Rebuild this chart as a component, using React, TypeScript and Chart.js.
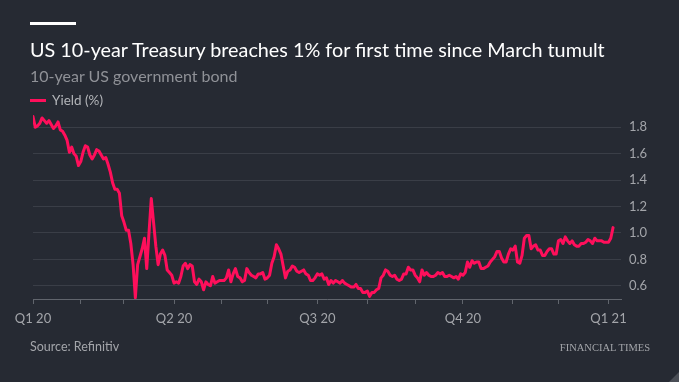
import React, { useEffect, useRef } from "react";
import { Chart, registerables } from "chart.js";

Chart.register(...registerables);

// Daily 10-year US Treasury yield (%), one array per month of trading days
const jan20 = [1.88, 1.80, 1.81, 1.83, 1.87, 1.85, 1.83, 1.85, 1.82, 1.79, 1.81, 1.84, 1.78, 1.77, 1.74, 1.70, 1.61, 1.65, 1.60, 1.58, 1.51];
const feb20 = [1.54, 1.61, 1.66, 1.65, 1.59, 1.56, 1.59, 1.63, 1.62, 1.59, 1.56, 1.57, 1.52, 1.46, 1.38, 1.33, 1.33, 1.30, 1.13];
const mar20 = [1.08, 1.02, 1.02, 0.92, 0.76, 0.51, 0.76, 0.82, 0.88, 0.96, 0.73, 1.00, 1.26, 1.08, 0.90, 0.76, 0.84, 0.87, 0.83, 0.72, 0.70, 0.68];
const apr20 = [0.62, 0.63, 0.62, 0.67, 0.75, 0.77, 0.73, 0.76, 0.75, 0.63, 0.61, 0.65, 0.63, 0.57, 0.63, 0.61, 0.60, 0.67, 0.62, 0.63, 0.64];
const may20 = [0.64, 0.64, 0.66, 0.72, 0.63, 0.69, 0.73, 0.67, 0.66, 0.63, 0.64, 0.73, 0.70, 0.68, 0.67, 0.66, 0.69, 0.69, 0.70, 0.65];
const jun20 = [0.66, 0.68, 0.77, 0.82, 0.91, 0.88, 0.84, 0.75, 0.66, 0.71, 0.72, 0.75, 0.74, 0.71, 0.70, 0.71, 0.72, 0.69, 0.68, 0.64, 0.64, 0.66];
const jul20 = [0.69, 0.68, 0.69, 0.65, 0.66, 0.61, 0.64, 0.62, 0.64, 0.63, 0.62, 0.64, 0.62, 0.61, 0.60, 0.59, 0.59, 0.61, 0.58, 0.58, 0.55, 0.55];
const aug20 = [0.56, 0.52, 0.55, 0.55, 0.57, 0.58, 0.66, 0.68, 0.72, 0.71, 0.68, 0.67, 0.68, 0.65, 0.64, 0.65, 0.69, 0.69, 0.74, 0.72, 0.72];
const sep20 = [0.68, 0.66, 0.63, 0.72, 0.68, 0.70, 0.68, 0.67, 0.67, 0.68, 0.70, 0.69, 0.70, 0.67, 0.67, 0.68, 0.67, 0.66, 0.67, 0.65, 0.69];
const oct20 = [0.68, 0.70, 0.78, 0.74, 0.79, 0.77, 0.78, 0.78, 0.73, 0.73, 0.74, 0.75, 0.78, 0.80, 0.82, 0.86, 0.86, 0.81, 0.78, 0.78, 0.84, 0.88];
const nov20 = [0.87, 0.90, 0.78, 0.77, 0.83, 0.96, 0.98, 0.98, 0.88, 0.90, 0.91, 0.87, 0.87, 0.83, 0.83, 0.86, 0.88, 0.88, 0.84, 0.84];
const dec20 = [0.94, 0.95, 0.92, 0.97, 0.94, 0.92, 0.94, 0.91, 0.90, 0.90, 0.92, 0.92, 0.93, 0.95, 0.94, 0.92, 0.96, 0.94, 0.94, 0.94, 0.93, 0.93];
const jan21 = [0.93, 0.96, 1.04];

const months = [jan20, feb20, mar20, apr20, may20, jun20, jul20, aug20, sep20, oct20, nov20, dec20, jan21];
const quarterLabels = ["Q1 20", "Q2 20", "Q3 20", "Q4 20", "Q1 21"];
const yTicks = [0.6, 0.8, 1.0, 1.2, 1.4, 1.6, 1.8];
const yMin = 0.5;
const yMax = 1.9;
const xMaxPad = 3.5;

const BG = "#262a33";
const LINE = "#ff0f5b";
const FONT = "Lato, 'Open Sans', sans-serif";

export default function App() {
  const ref = useRef<HTMLCanvasElement>(null);

  useEffect(() => {
    const values = months.flat();
    const points = values.map((v, i) => ({ x: i, y: v }));
    const monthStarts: number[] = [];
    let acc = 0;
    for (const m of months) {
      monthStarts.push(acc);
      acc += m.length;
    }
    const labelAt = new Map<number, string>();
    quarterLabels.forEach((l, q) => labelAt.set(monthStarts[q * 3], l));

    const chart = new Chart(ref.current!, {
      type: "line",
      data: {
        datasets: [
          {
            data: points,
            borderColor: LINE,
            borderWidth: 3,
            pointRadius: 0,
            tension: 0,
            borderJoinStyle: "round",
            borderCapStyle: "round",
          },
        ],
      },
      options: {
        animation: false,
        responsive: false,
        devicePixelRatio: 1,
        layout: { padding: { left: 33, top: 114, right: 0, bottom: 0 } },
        plugins: { legend: { display: false }, tooltip: { enabled: false } },
        scales: {
          x: {
            type: "linear",
            min: 0,
            max: values.length - 1 + xMaxPad,
            afterBuildTicks: (s: any) => {
              s.ticks = monthStarts.map((v) => ({ value: v }));
            },
            afterFit: (s: any) => {
              s.height = 83;
            },
            ticks: {
              autoSkip: false,
              maxRotation: 0,
              minRotation: 0,
              padding: 7,
              color: "#a3a5aa",
              font: { family: FONT, size: 13 },
              callback: (v: any) => labelAt.get(Number(v)) ?? "",
            },
            grid: { drawOnChartArea: false, drawTicks: true, tickLength: 5, color: "#61656d" },
            border: { display: true, color: "#61656d", width: 1 },
          },
          y: {
            position: "right",
            min: yMin,
            max: yMax,
            afterBuildTicks: (s: any) => {
              s.ticks = yTicks.map((v) => ({ value: v }));
            },
            afterFit: (s: any) => {
              s.width = 58;
            },
            ticks: {
              padding: 8,
              color: "#a3a5aa",
              font: { family: FONT, size: 13 },
              callback: (v: any) => Number(v).toFixed(1),
            },
            grid: { color: "#3a3e47", drawTicks: false, lineWidth: 1 },
            border: { display: false },
          },
        },
      },
    });
    return () => chart.destroy();
  }, []);

  return (
    <div style={{ position: "fixed", left: 0, top: 0, width: 679, height: 382, background: BG, overflow: "hidden", fontFamily: FONT }}>
      <canvas ref={ref} width={679} height={382} style={{ position: "absolute", left: 0, top: 0, width: 679, height: 382 }} />
      <div style={{ position: "absolute", left: 30, top: 22, width: 46, height: 3, background: "#ffffff" }} />
      <div style={{ position: "absolute", left: 30, top: 37, fontSize: 19.8, lineHeight: "24px", color: "#ffffff", whiteSpace: "nowrap" }}>
        US 10-year Treasury breaches 1% for first time since March tumult
      </div>
      <div style={{ position: "absolute", left: 30, top: 66, fontSize: 16, lineHeight: "20px", color: "#8f9197", whiteSpace: "nowrap" }}>
        10-year US government bond
      </div>
      <div style={{ position: "absolute", left: 30, top: 99, width: 16, height: 3, background: LINE }} />
      <div style={{ position: "absolute", left: 52, top: 92, fontSize: 13.5, lineHeight: "17px", color: "#b3b5b9", whiteSpace: "nowrap" }}>
        Yield (%)
      </div>
      <div style={{ position: "absolute", left: 30, top: 339, fontSize: 12.5, lineHeight: "16px", color: "#a3a5aa", whiteSpace: "nowrap" }}>
        Source: Refinitiv
      </div>
      <div style={{ position: "absolute", right: 29, top: 341, fontSize: 10.5, lineHeight: "14px", color: "#a3a5aa", whiteSpace: "nowrap", fontFamily: "'Liberation Serif', 'DejaVu Serif', serif" }}>
        FINANCIAL TIMES
      </div>
      <div style={{ position: "absolute", right: 0, bottom: 0, width: 0, height: 0, borderLeft: "10px solid transparent", borderBottom: "10px solid #4a4e56" }} />
    </div>
  );
}
